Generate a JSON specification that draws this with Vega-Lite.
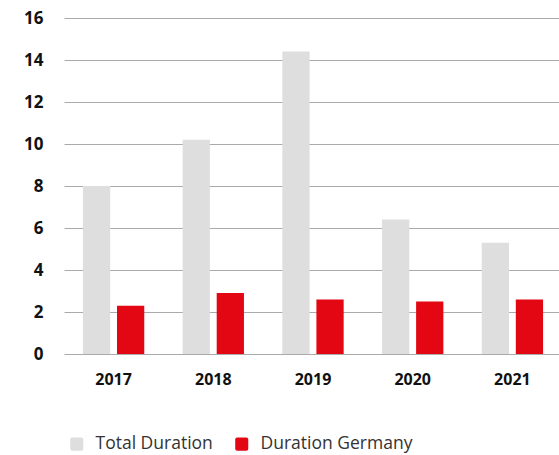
{
  "$schema": "https://vega.github.io/schema/vega-lite/v6.json",
  "width": 498,
  "height": 336,
  "autosize": {"type": "none"},
  "padding": {"left": 64, "top": 18, "right": 0, "bottom": 101},
  "background": "white",
  "data": {"values": [
    {"year": "2017", "series": "Total Duration", "value": 8.0},
    {"year": "2017", "series": "Duration Germany", "value": 2.3},
    {"year": "2018", "series": "Total Duration", "value": 10.2},
    {"year": "2018", "series": "Duration Germany", "value": 2.9},
    {"year": "2019", "series": "Total Duration", "value": 14.4},
    {"year": "2019", "series": "Duration Germany", "value": 2.6},
    {"year": "2020", "series": "Total Duration", "value": 6.4},
    {"year": "2020", "series": "Duration Germany", "value": 2.5},
    {"year": "2021", "series": "Total Duration", "value": 5.3},
    {"year": "2021", "series": "Duration Germany", "value": 2.6}
  ]},
  "config": {"view": {"stroke": null}, "font": "Open Sans"},
  "mark": {"type": "bar"},
  "encoding": {
    "x": {"field": "year", "type": "nominal", "title": null,
      "scale": {"paddingInner": 0.385, "paddingOuter": 0.19},
      "axis": {"domain": false, "ticks": false, "labelAngle": 0, "labelFont": "Open Sans", "labelFontWeight": "bold", "labelFontSize": 16, "labelColor": "#111", "labelPadding": 17}},
    "xOffset": {"field": "series", "type": "nominal", "sort": ["Total Duration", "Duration Germany"],
      "scale": {"paddingInner": 0.2, "paddingOuter": 0}},
    "y": {"field": "value", "type": "quantitative", "title": null,
      "scale": {"domain": [0, 16], "nice": false},
      "axis": {"values": [0, 2, 4, 6, 8, 10, 12, 14, 16], "domain": false, "ticks": false, "gridColor": "#aaaaaa", "gridWidth": 1, "labelFont": "Open Sans", "labelFontWeight": "bold", "labelFontSize": 17, "labelColor": "#111", "labelPadding": 21}},
    "color": {"field": "series", "type": "nominal", "sort": ["Total Duration", "Duration Germany"],
      "scale": {"domain": ["Total Duration", "Duration Germany"], "range": ["#dedede", "#e30613"]},
      "legend": {"title": null, "orient": "none", "direction": "horizontal", "legendX": 4, "legendY": 417,
        "symbolType": "M-0.7,-1L0.7,-1Q1,-1 1,-0.7L1,0.7Q1,1 0.7,1L-0.7,1Q-1,1 -1,0.7L-1,-0.7Q-1,-1 -0.7,-1Z",
        "symbolSize": 170, "symbolStrokeWidth": 0, "labelFontSize": 17.5, "labelColor": "#333", "labelFont": "Open Sans", "labelOffset": 10, "columnPadding": 20}}
  }
}
